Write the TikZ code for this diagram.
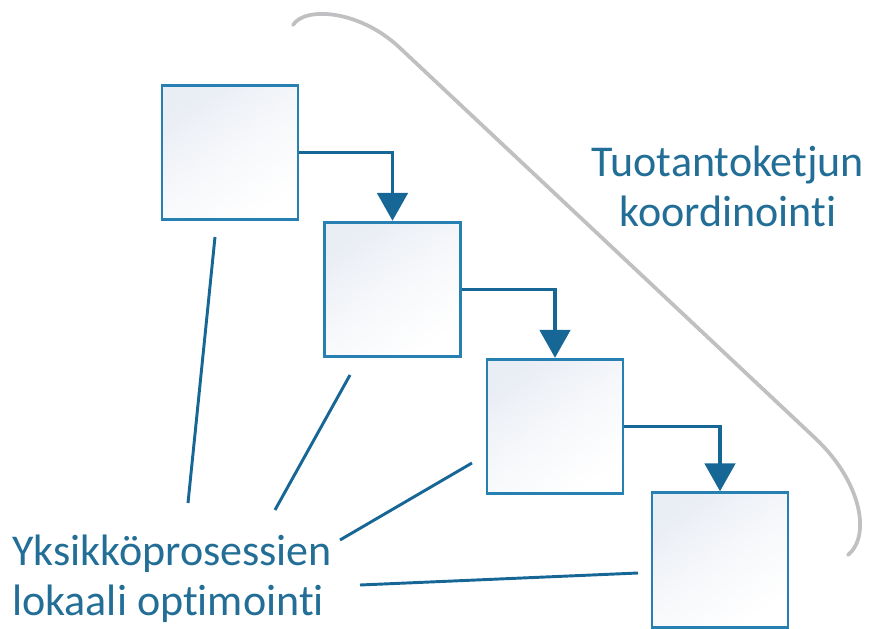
\documentclass[tikz,border=0pt]{standalone}
\usepackage{fontspec}
\setmainfont{Carlito}[Ligatures={NoCommon,NoRare}]
\usepackage{tikz}
\usetikzlibrary{arrows.meta}

\definecolor{boxline}{RGB}{38,128,178}
\definecolor{flowline}{RGB}{22,102,150}
\definecolor{labeltext}{RGB}{34,110,150}
\definecolor{boxshade}{RGB}{233,237,244}
\definecolor{rimgray}{RGB}{192,192,194}

\tikzset{
  unitbox/.style={draw=boxline, line width=2.1pt, minimum width=102pt, minimum height=101pt,
    inner sep=0pt, top color=boxshade, bottom color=white, middle color=white!60!boxshade, shading angle=35},
  flow/.style={draw=flowline, line width=2.4pt, -{Triangle[width=23pt,length=21pt]}},
  pointer/.style={draw=flowline, line width=2.2pt},
  caption/.style={text=labeltext, font=\fontsize{33}{37.5}\selectfont, inner sep=0pt}
}

\begin{document}
\begin{tikzpicture}[x=0.75pt,y=0.75pt,yscale=-1,xscale=1]
\useasboundingbox (0,0) rectangle (876,629);

% Gray bracket
\draw [rimgray, line width=2.8pt, line cap=round]
  (293,25) .. controls (305,6) and (360,10) .. (400,48) -- (815,438)
  .. controls (860,480) and (872,535) .. (848,555);

% Unit process boxes
\node [unitbox] (b1) at (230,152.5) {};
\node [unitbox] (b2) at (392.5,289.5) {};
\node [unitbox] (b3) at (555,426.5) {};
\node [unitbox] (b4) at (720,560) {};

% Flow arrows
\draw [flow] (b1.east) -| (b2.north);
\draw [flow] (b2.east) -| (b3.north);
\draw [flow] (b3.east) -| (b4.north);

% Text Node
\node [caption, align=center] (coord) at (728,186) {Tuotantoketjun\\koordinointi};
% Text Node
\node [caption, align=left, anchor=west] (local) at (12,579) {Yksikköprosessien\\lokaali optimointi};

% Pointer lines
\coordinate (p1) at (215,237);
\coordinate (q1) at (188,503);
\coordinate (p2) at (350,375);
\coordinate (q2) at (275,510);
\coordinate (p3) at (472,463);
\coordinate (q3) at (340,540);
\coordinate (p4) at (638,573);
\coordinate (q4) at (360,585);
\draw [pointer] (p1) -- (q1);
\draw [pointer] (p2) -- (q2);
\draw [pointer] (p3) -- (q3);
\draw [pointer] (p4) -- (q4);

\end{tikzpicture}
\end{document}
